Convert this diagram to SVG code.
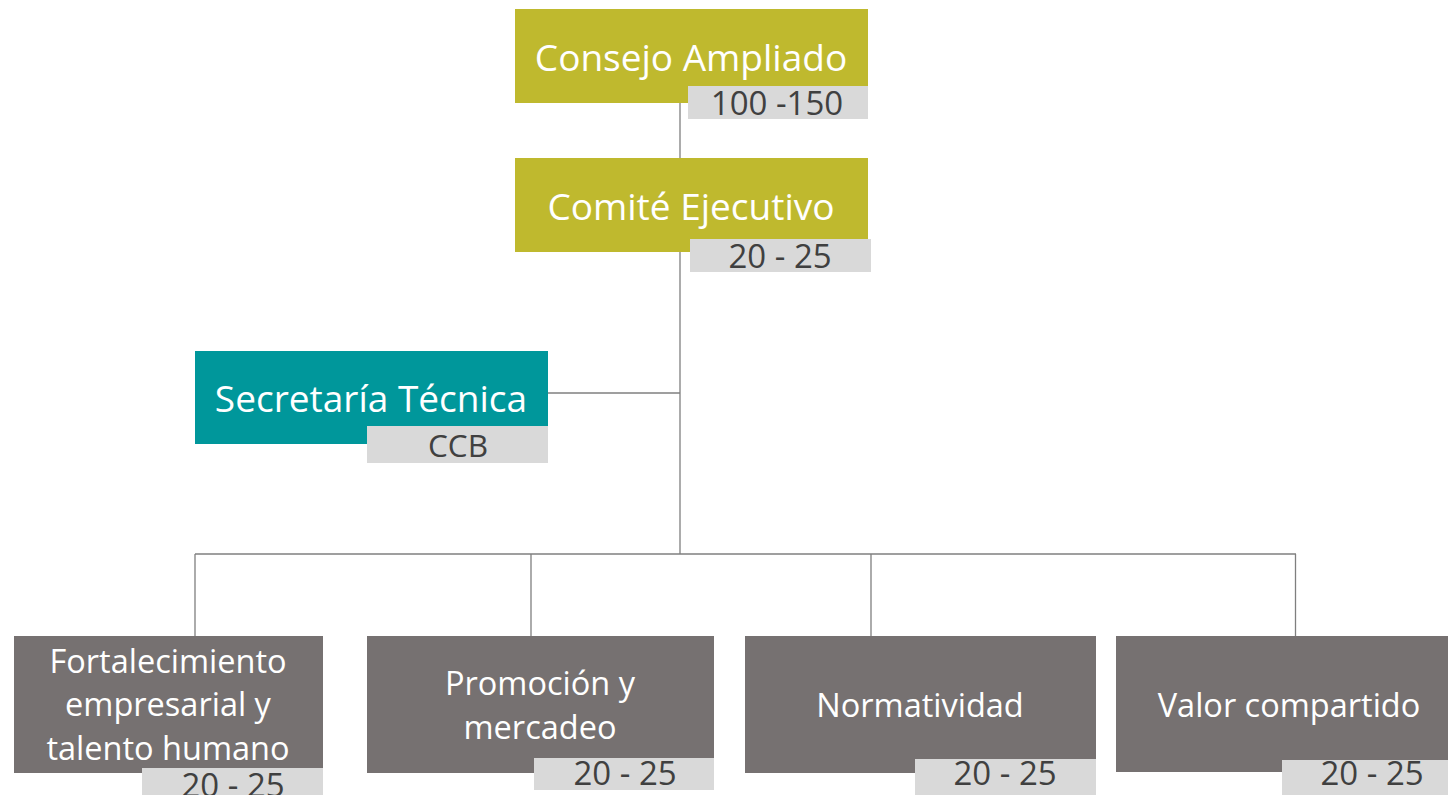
<svg xmlns="http://www.w3.org/2000/svg" width="1448" height="795" viewBox="0 0 1448 795">
<style>
.olive{fill:#BFB92E}
.teal{fill:#00979B}
.grey{fill:#767171}
.tag{fill:#D9D9D9}
.t{font-family:"Open Sans","Liberation Sans",sans-serif;fill:#FFFFFF;text-anchor:middle}
.big{font-size:37px}
.small{font-size:32.5px}
.n{font-family:"Open Sans","Liberation Sans",sans-serif;fill:#404040;text-anchor:middle;font-size:33px}
.line{stroke:#7F7F7F;stroke-width:1.3;fill:none}
</style>
<rect width="1448" height="795" fill="#FFFFFF"/>
<g id="connectors">
<path class="line" d="M680 103 V554"/>
<path class="line" d="M548 393 H680"/>
<path class="line" d="M195 554 H1296"/>
<path class="line" d="M195 554 V636"/>
<path class="line" d="M531 554 V636"/>
<path class="line" d="M871 554 V636"/>
<path class="line" d="M1295.5 554 V636"/>
</g>
<g id="consejo">
<rect class="olive" x="515" y="9" width="353" height="94"/>
<text class="t big" x="691" y="71">Consejo Ampliado</text>
<rect class="tag" x="688" y="86" width="180" height="33"/>
<text class="n" x="777" y="115">100 -150</text>
</g>
<g id="comite">
<rect class="olive" x="515" y="158" width="353" height="94"/>
<text class="t big" x="691" y="220">Comité Ejecutivo</text>
<rect class="tag" x="690" y="239" width="181" height="33"/>
<text class="n" x="780" y="268">20 - 25</text>
</g>
<g id="secretaria">
<rect class="teal" x="195" y="351" width="353" height="93"/>
<text class="t big" x="371" y="412">Secretaría Técnica</text>
<rect class="tag" x="367" y="426" width="181" height="37"/>
<text class="n" x="458" y="457" style="font-size:31.5px">CCB</text>
</g>
<g id="fortalecimiento">
<rect class="grey" x="14" y="636" width="309" height="137"/>
<text class="t small" x="168" y="673">Fortalecimiento</text>
<text class="t small" x="168" y="716">empresarial y</text>
<text class="t small" x="168" y="760">talento humano</text>
<rect class="tag" x="142" y="768" width="181" height="27"/>
<text class="n" x="233" y="797">20 - 25</text>
</g>
<g id="promocion">
<rect class="grey" x="367" y="636" width="347" height="137"/>
<text class="t small" x="540" y="695">Promoción y</text>
<text class="t small" x="540" y="739">mercadeo</text>
<rect class="tag" x="534" y="758" width="180" height="32"/>
<text class="n" x="625" y="785">20 - 25</text>
</g>
<g id="normatividad">
<rect class="grey" x="745" y="636" width="351" height="137"/>
<text class="t small" x="920" y="717">Normatividad</text>
<rect class="tag" x="915" y="759" width="181" height="36"/>
<text class="n" x="1005" y="785">20 - 25</text>
</g>
<g id="valor">
<rect class="grey" x="1116" y="636" width="332" height="136"/>
<text class="t small" x="1289" y="717">Valor compartido</text>
<rect class="tag" x="1282" y="760" width="166" height="35"/>
<text class="n" x="1372" y="785">20 - 25</text>
</g>
</svg>
